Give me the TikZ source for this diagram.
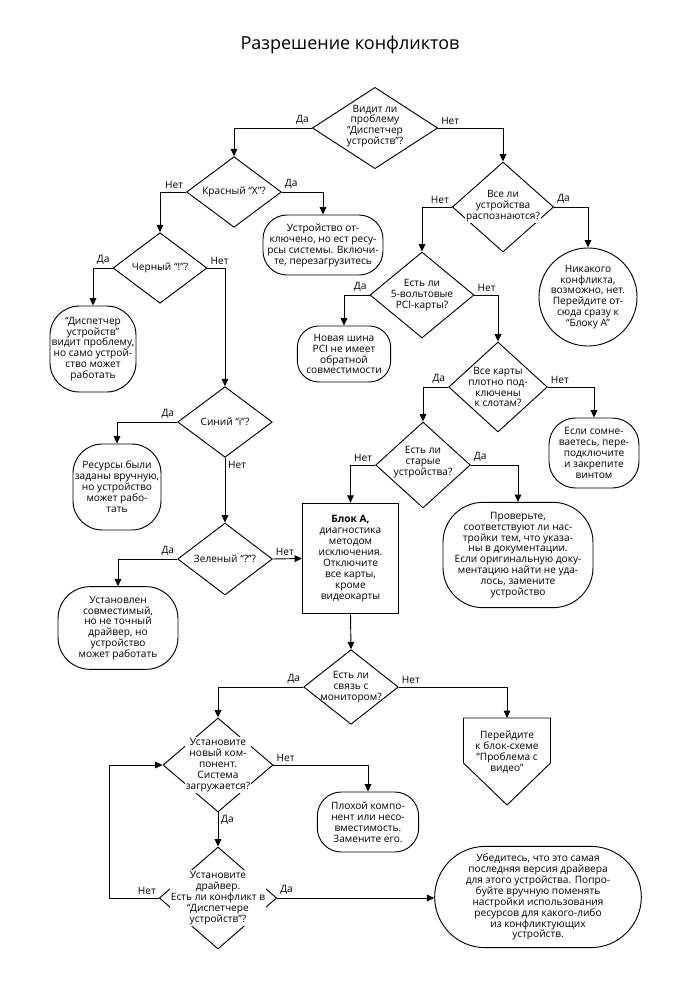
\documentclass[tikz,border=0pt]{standalone}
\usepackage{fontspec}
\setmainfont{Open Sans}
\usetikzlibrary{shapes.geometric,arrows.meta}
\begin{document}
\begin{tikzpicture}[x=0.75pt,y=-0.75pt,line width=0.7pt,
    >={Triangle[length=5.5pt,width=5pt]},
    every node/.style={font=\fontsize{7.6}{8.2}\selectfont},
    decision/.style={diamond,draw,inner sep=0pt},
    dtext/.style={align=center,inner sep=1pt},
    dtextw/.style={dtext,fill=white},
    terminal/.style={draw,align=center,inner sep=0pt,rounded corners=#1},
    terminal/.default=18pt,
    lab/.style={inner sep=2pt}]
    \useasboundingbox (0,0) rectangle (700,1000);
    \node[font=\fontsize{13.5}{16}\selectfont] (title) at (350,45) {Разрешение конфликтов};
    % decisions
    \node[decision,minimum width=94pt,minimum height=61pt] (d1) at (375,128) {};
    \node[dtext] (d1t) at (375,126) {Видит ли\\проблему\\“Диспетчер\\устройств”?};
    \node[decision,minimum width=71pt,minimum height=53pt] (d2) at (234,192) {};
    \node[dtext] (d2t) at (d2) {Красный “X”?};
    \node[decision,minimum width=70.5pt,minimum height=53pt] (d3) at (160,268) {};
    \node[dtext] (d3t) at (d3) {Черный “!”?};
    \node[decision,minimum width=71pt,minimum height=53pt] (d4) at (225,422) {};
    \node[dtext] (d4t) at (d4) {Синий “i”?};
    \node[decision,minimum width=71pt,minimum height=54pt] (d5) at (225,559) {};
    \node[dtext] (d5t) at (d5) {Зеленый “?”?};
    \node[decision,minimum width=71pt,minimum height=56pt] (d6) at (351,687) {};
    \node[dtext] (d6t) at (d6) {Есть ли\\связь с\\монитором?};
    \node[decision,minimum width=82.5pt,minimum height=70.5pt] (d7) at (218,765) {};
    \node[dtextw] (d7t) at (d7) {Установите\\новый ком-\\понент.\\Система\\загружается?};
    \node[decision,minimum width=88pt,minimum height=76.5pt] (d8) at (218,898) {};
    \node[dtextw] (d8t) at (d8) {Установите\\драйвер.\\Есть ли конфликт в\\“Диспетчере\\устройств”?};
    \node[decision,minimum width=76pt,minimum height=67.5pt] (d9) at (503,207) {};
    \node[dtext] (d9t) at (503,201) {Все ли\\устройства};
    \node[dtextw] (d9b) at (503,217) {распознаются?};
    \node[decision,minimum width=78pt,minimum height=64.5pt] (d10) at (422,295) {};
    \node[dtext] (d10t) at (d10) {Есть ли\\5-вольтовые\\PCI-карты?};
    \node[decision,minimum width=74pt,minimum height=67.5pt] (d11) at (498,387) {};
    \node[dtext] (d11t) at (d11) {Все карты\\плотно под-\\ключены\\к слотам?};
    \node[decision,minimum width=71pt,minimum height=64.5pt] (d12) at (423,465) {};
    \node[dtext] (d12t) at (423,462) {Есть ли\\старые\\устройства?};
    % outcomes
    \node[terminal,minimum width=90pt,minimum height=45pt] (t1) at (323,245) {Устройство от-\\ключено, но ест ресу-\\рсы системы. Включи-\\те, перезагрузитесь};
    \node[terminal=22pt,minimum width=64.5pt,minimum height=64.5pt] (t2) at (93,349) {“Диспетчер\\устройств”\\видит проблему,\\но само устрой-\\ство может\\работать};
    \node[terminal=22pt,minimum width=66pt,minimum height=64.5pt] (t3) at (117,487) {Ресурсы были\\заданы вручную,\\но устройство\\может рабо-\\тать};
    \node[terminal=24pt,minimum width=90pt,minimum height=62pt] (t4) at (118,628) {Установлен\\совместимый,\\но не точный\\драйвер, но\\устройство\\может работать};
    \node[terminal=16pt,minimum width=70pt,minimum height=42pt] (t5) at (344,354) {Новая шина\\PCI не имеет\\обратной\\совместимости};
    \node[circle,draw,align=center,inner sep=0pt,minimum size=72pt] (t6) at (588,297) {Никакого\\конфликта,\\возможно, нет.\\Перейдите от-\\сюда сразу к\\“Блоку А”};
    \node[terminal=20pt,minimum width=67.5pt,minimum height=52.5pt] (t7) at (594,453) {Если сомне-\\ваетесь, пере-\\подключите\\и закрепите\\винтом};
    \node[terminal=30pt,minimum width=112.5pt,minimum height=79pt] (t8) at (518,555) {Проверьте,\\соответствуют ли нас-\\тройки тем, что указа-\\ны в документации.\\Если оригинальную доку-\\ментацию найти не уда-\\лось, замените\\устройство};
    \node[terminal,minimum width=76pt,minimum height=45pt] (t9) at (368,822) {Плохой компо-\\нент или несо-\\вместимость.\\Замените его.};
    \node[terminal=38pt,minimum width=155pt,minimum height=76pt] (t10) at (538,897) {Убедитесь, что это самая\\последняя версия драйвера\\для этого устройства. Попро-\\буйте вручную поменять\\настройки использования\\ресурсов для какого-либо\\из конфликтующих\\устройств.};
    \node[draw,align=center,inner sep=0pt,minimum width=72pt,minimum height=83pt] (blockA) at (350.5,558.5) {\textbf{Блок А,}\\диагностика\\методом\\исключения.\\Отключите\\все карты,\\кроме\\видеокарты};
    \coordinate (vidtop) at (507,718);
    \draw (vidtop) ++(-43.5,0) -- ++(87,0) -- ++(0,45) -- ++(-43.5,42) -- ++(-43.5,-42) -- cycle;
    \node[dtext] (vid) at (507,752) {Перейдите\\к блок-схеме\\“Проблема с\\видео”};
    \coordinate (loop) at (109,898);
    % connectors
    \draw[->] (d1.west) node[lab,above left] {Да} -| (d2.north);
    \draw[->] (d1.east) node[lab,above right] {Нет} -| (d9.north);
    \draw[->] (d2.west) node[lab,above left] {Нет} -| (d3.north);
    \draw[->] (d2.east) node[lab,above right] {Да} -| (t1.north);
    \draw[->] (d3.west) node[lab,above left] {Да} -| (t2.north);
    \draw[->] (d3.east) node[lab,above right] {Нет} -| (d4.north);
    \draw[->] (d4.west) node[lab,above left] {Да} -| (t3.north);
    \draw[->] (d4.south) node[lab,below right] {Нет} -- (d5.north);
    \draw[->] (d5.west) node[lab,above left] {Да} -| (t4.north);
    \draw[->] (d5.east) node[lab,above right] {Нет} -- (blockA.west);
    \draw[->] (d9.west) node[lab,above left] {Нет} -| (d10.north);
    \draw[->] (d9.east) node[lab,above right] {Да} -| (t6.north);
    \draw[->] (d10.west) node[lab,above left] {Да} -| (t5.north);
    \draw[->] (d10.east) node[lab,above right] {Нет} -| (d11.north);
    \draw[->] (d11.west) node[lab,above left] {Да} -| (d12.north);
    \draw[->] (d11.east) node[lab,above right] {Нет} -| (t7.north);
    \draw[->] (d12.west) node[lab,above left] {Нет} -| (blockA.north);
    \draw[->] (d12.east) node[lab,above right] {Да} -| (t8.north);
    \draw[->] (blockA.south) -- (d6.north);
    \draw[->] (d6.west) node[lab,above left] {Да} -| (d7.north);
    \draw[->] (d6.east) node[lab,above right] {Нет} -| (vidtop);
    \draw[->] (d7.east) node[lab,above right] {Нет} -| (t9.north);
    \draw[->] (d7.south) node[lab,below right] {Да} -- (d8.north);
    \draw[->] (d8.east) node[lab,above right] {Да} -- (d8.east -| t10.west);
    \draw[->] (d8.west) node[lab,above left] {Нет} -- (loop) |- (d7.west);
\end{tikzpicture}
\end{document}
